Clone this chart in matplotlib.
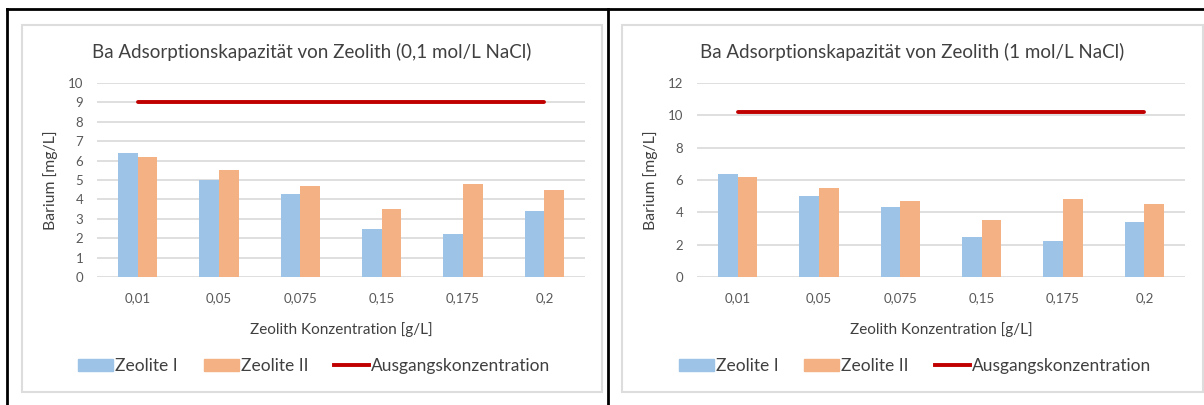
import matplotlib
matplotlib.use("Agg")
import matplotlib.pyplot as plt
from matplotlib.patches import Rectangle, Patch
from matplotlib.lines import Line2D
import numpy as np

plt.rcParams['font.family'] = ['Lato', 'DejaVu Sans']

# Zeolith concentrations on the x axis
konzentrationen = ["0,01", "0,05", "0,075", "0,15", "0,175", "0,2"]

# 0,1 mol/L NaCl
zeolite1_01 = [6.4, 5.0, 4.3, 2.5, 2.2, 3.4]
zeolite2_01 = [6.2, 5.5, 4.7, 3.5, 4.8, 4.5]
ausgang_01 = [9.0, 9.0, 9.0, 9.0, 9.0, 9.0]

# 1 mol/L NaCl
zeolite1_1 = [6.4, 5.0, 4.3, 2.5, 2.2, 3.4]
zeolite2_1 = [6.2, 5.5, 4.7, 3.5, 4.8, 4.5]
ausgang_1 = [10.2, 10.2, 10.2, 10.2, 10.2, 10.2]

titles = ["Ba Adsorptionskapazität von Zeolith (0,1 mol/L NaCl)",
          "Ba Adsorptionskapazität von Zeolith (1 mol/L NaCl)"]

BLUE = "#9DC3E6"
ORANGE = "#F4B183"
RED = "#C00000"
GRID = "#D9D9D9"
TEXT = "#404040"
TICK = "#595959"

W, H = 1204, 405
fig = plt.figure(figsize=(W / 100, H / 100), dpi=100)


def fx(px):
    return px / W


def fy(py):
    return 1 - py / H


def draw_panel(left_px, frame, title, z1, z2, ausgang, ymax, ystep):
    # light grey chart frame
    fx0, fx1 = frame
    fig.patches.append(Rectangle((fx(fx0), fy(392)), fx(fx1 - fx0), (392 - 25) / H,
                                 transform=fig.transFigure, fill=False,
                                 edgecolor="#DDDDDD", lw=1.5))
    ax = fig.add_axes([fx(left_px), fy(277), fx(488), (277 - 83) / H])
    x = np.arange(len(konzentrationen))
    w = 0.24
    ax.bar(x - w / 2, z1, w, color=BLUE, zorder=3)
    ax.bar(x + w / 2, z2, w, color=ORANGE, zorder=3)
    ax.plot(x, ausgang, color=RED, lw=2.8, solid_capstyle="round", zorder=4)
    ax.set_xlim(-0.5, len(x) - 0.5)
    ax.set_ylim(0, ymax)
    ax.set_yticks(np.arange(0, ymax + 0.1, ystep))
    ax.set_xticks(x)
    ax.set_xticklabels(konzentrationen)
    ax.tick_params(axis="both", length=0, labelsize=9.5, labelcolor=TICK)
    ax.tick_params(axis="y", pad=10)
    ax.tick_params(axis="x", pad=11)
    ax.grid(axis="y", color=GRID, lw=1.2, zorder=0)
    for s in ax.spines.values():
        s.set_visible(False)
    ax.set_ylabel("Barium [mg/L]", fontsize=11.3, color=TEXT, labelpad=7)
    ax.set_xlabel("Zeolith Konzentration [g/L]", fontsize=11, color=TEXT, labelpad=13)
    cx = fx((fx0 + fx1) / 2)
    fig.text(cx, fy(52), title, ha="center", va="center", fontsize=13.5, color=TEXT)
    handles = [Patch(color=BLUE), Patch(color=ORANGE), Line2D([], [], color=RED, lw=2.8)]
    fig.legend(handles, ["Zeolite I", "Zeolite II", "Ausgangskonzentration"],
               loc="center", bbox_to_anchor=(cx + 0.002, fy(366)), ncol=3, frameon=False,
               fontsize=12.5, labelcolor=TEXT, handlelength=2.0, handleheight=0.7,
               handletextpad=0.12, columnspacing=1.5)
    return ax


draw_panel(97, (22, 602), titles[0], zeolite1_01, zeolite2_01, ausgang_01, 10, 1)
draw_panel(697, (622, 1203), titles[1], zeolite1_1, zeolite2_1, ausgang_1, 12, 2)

# black outer lines
fig.lines.append(Line2D([fx(7), 1], [fy(9), fy(9)], transform=fig.transFigure, color="black", lw=2))
fig.lines.append(Line2D([fx(7), fx(7)], [0, fy(9)], transform=fig.transFigure, color="black", lw=2))
fig.lines.append(Line2D([fx(607.5), fx(607.5)], [0, fy(9)], transform=fig.transFigure, color="black", lw=2))

fig.savefig("out.png", dpi=100)
